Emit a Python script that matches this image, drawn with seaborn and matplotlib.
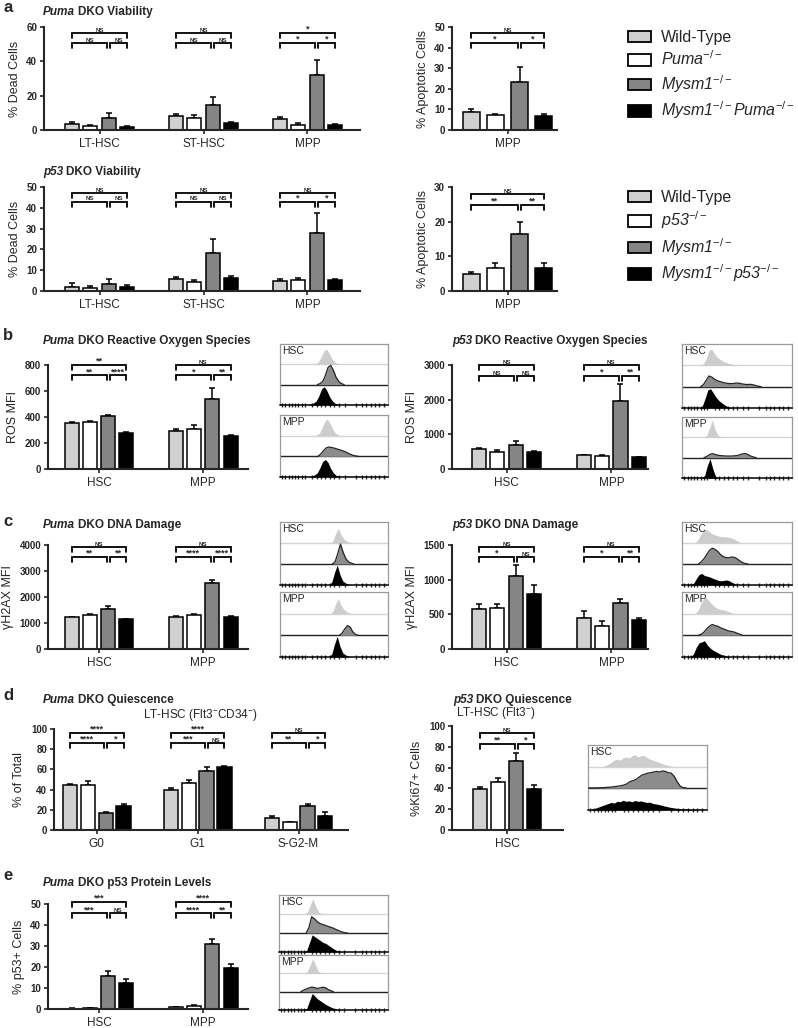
import numpy as np
import pandas as pd
import matplotlib
matplotlib.use("Agg")
import matplotlib.pyplot as plt
import seaborn as sns
from matplotlib.patches import Patch

W, H = 798, 1028

# ---------------- data ----------------
GENO = ["WT", "KO", "MYSM", "DKO"]
COLORS = ["#d0d0d0", "#ffffff", "#858585", "#000000"]
PUMA_LABELS = ["Wild-Type", r"Puma$^{-/-}$", r"Mysm1$^{-/-}$", r"Mysm1$^{-/-}$Puma$^{-/-}$"]
P53_LABELS = ["Wild-Type", r"p53$^{-/-}$", r"Mysm1$^{-/-}$", r"Mysm1$^{-/-}$p53$^{-/-}$"]

via_groups = ["LT-HSC", "ST-HSC", "MPP"]
via_puma_mean = [[3.7, 2.1, 7.0, 1.7], [8.3, 6.8, 14.3, 4.1], [6.4, 3.1, 32.2, 3.1]]
via_puma_err = [[1.1, 0.6, 2.8, 0.4], [0.8, 1.9, 4.8, 0.5], [0.9, 0.9, 8.7, 0.4]]
via_puma_sig = [["NS", "NS", "NS"], ["NS", "NS", "NS"], ["*", "*", "*"]]

apo_puma_mean = [[8.5, 7.2, 23.5, 6.9]]
apo_puma_err = [[1.6, 0.5, 7.2, 1.1]]
apo_puma_sig = [["NS", "*", "*"]]

via_p53_mean = [[1.9, 1.6, 3.3, 1.9], [6.0, 4.5, 18.5, 6.4], [4.6, 5.1, 27.7, 5.3]]
via_p53_err = [[1.9, 0.8, 2.4, 0.8], [0.7, 0.9, 6.3, 0.6], [1.3, 1.0, 9.6, 0.3]]
via_p53_sig = [["NS", "NS", "NS"], ["NS", "NS", "NS"], ["NS", "*", "*"]]

apo_p53_mean = [[4.9, 6.5, 16.5, 6.7]]
apo_p53_err = [[0.7, 1.5, 3.3, 1.3]]
apo_p53_sig = [["NS", "**", "**"]]

hm_groups = ["HSC", "MPP"]
ros_puma_mean = [[355, 365, 410, 280], [295, 310, 540, 255]]
ros_puma_err = [[10, 5, 5, 5], [15, 25, 85, 3]]
ros_puma_sig = [["**", "**", "****"], ["NS", "*", "**"]]

ros_p53_mean = [[590, 480, 700, 490], [400, 370, 1960, 340]]
ros_p53_err = [[25, 60, 100, 20], [10, 30, 480, 10]]
ros_p53_sig = [["NS", "NS", "NS"], ["NS", "*", "**"]]

dna_puma_mean = [[1220, 1300, 1520, 1140], [1250, 1310, 2520, 1220]]
dna_puma_err = [[30, 30, 120, 30], [30, 50, 150, 60]]
dna_puma_sig = [["NS", "**", "**"], ["NS", "****", "****"]]

dna_p53_mean = [[584, 598, 1052, 796], [453, 328, 666, 420]]
dna_p53_err = [[62, 53, 154, 130], [92, 77, 57, 33]]
dna_p53_sig = [["NS", "*", "NS"], ["NS", "*", "**"]]

cc_groups = ["G0", "G1", "S-G2-M"]
cc_puma_mean = [[44.2, 44.2, 16.8, 23.4], [39.3, 46.2, 58.7, 62.4], [11.9, 7.6, 23.4, 13.5]]
cc_puma_err = [[1.3, 4.0, 1.4, 2.6], [2.0, 3.6, 3.3, 1.0], [1.6, 0.7, 2.0, 4.0]]
cc_puma_sig = [["****", "****", "*"], ["****", "***", "NS"], ["NS", "**", "*"]]

ki_groups = ["HSC"]
ki_p53_mean = [[39.7, 46.2, 66.7, 39.1]]
ki_p53_err = [[2.0, 3.5, 7.3, 4.5]]
ki_p53_sig = [["NS", "**", "*"]]

p53_puma_mean = [[0.2, 0.5, 15.9, 12.3], [0.8, 1.3, 31.0, 19.7]]
p53_puma_err = [[0.1, 0.2, 2.3, 1.9], [0.3, 0.45, 2.3, 1.6]]
p53_puma_sig = [["***", "***", "NS"], ["****", "****", "**"]]

# flow histograms: (start position, heights sampled every HSTEP), rows WT / Mysm1 / DKO
HSTEP = 0.025
ros_puma_hsc = [(0.305, [0, .04, .12, .35, .65, .75, .55, .28, .12, .04, 0]),
                (0.345, [0, .05, .15, .45, .85, .95, .7, .35, .15, .05, 0]),
                (0.26, [0, .05, .1, .2, .45, .8, .9, .7, .4, .2, .08, .03, 0])]
ros_puma_mpp = [(0.315, [0, .04, .12, .38, .7, .8, .58, .3, .12, .04, 0]),
                (0.35, [0, .1, .25, .4, .45, .43, .4, .36, .32, .28, .23, .17, .1, .05, .02, 0]),
                (0.27, [0, .05, .1, .2, .45, .75, .85, .7, .4, .2, .08, .03, 0])]
ros_p53_hsc = [(0.17, [0, .08, .3, .7, .75, .55, .38, .28, .2, .15, .1, .07, .04, .02, 0]),
               (0.17, [0, .1, .3, .5, .45, .35, .28, .24, .2, .17, .15, .14, .15, .17, .16, .13,
                       .11, .1, .11, .09, .05, .02, 0]),
               (0.16, [0, .1, .45, .85, .9, .7, .5, .35, .25, .15, .08, .03, 0])]
ros_p53_mpp = [(0.2, [0, .1, .45, .85, .4, .12, .04, 0]),
               (0.2, [0, .06, .15, .2, .16, .12, .1, .09, .08, .08, .08, .09, .1, .14, .19, .2,
                      .15, .08, .03, 0]),
               (0.18, [0, .1, .6, .95, .45, .08, 0])]
dna_puma_hsc = [(0.465, [0, .1, .45, .7, .4, .2, .1, .04, 0]),
                (0.485, [0, .1, .5, .95, .55, .25, .1, .04, 0]),
                (0.455, [0, .15, .6, .95, .5, .2, .1, .04, 0])]
dna_puma_mpp = [(0.465, [0, .1, .45, .7, .4, .2, .1, .04, 0]),
                (0.55, [0, .1, .3, .45, .38, .15, .04, 0]),
                (0.455, [0, .15, .6, .95, .5, .2, .1, .04, 0])]
dna_p53_hsc = [(0.12, [0, .15, .4, .6, .65, .55, .45, .4, .35, .32, .3, .3, .28, .25, .2, .12, .05, 0]),
               (0.15, [0, .1, .25, .45, .65, .75, .7, .6, .45, .35, .3, .3, .33, .32, .25, .15,
                       .07, .02, 0]),
               (0.08, [0, .08, .3, .5, .55, .45, .42, .38, .32, .27, .22, .2, .22, .24, .2, .12,
                       .05, 0])]
dna_p53_mpp = [(0.12, [0, .15, .45, .7, .75, .6, .45, .32, .25, .2, .18, .15, .1, .05, 0]),
               (0.15, [0, .05, .15, .3, .42, .5, .45, .42, .35, .3, .25, .2, .18, .15, .1, .05, 0]),
               (0.08, [0, .15, .45, .65, .7, .75, .55, .42, .32, .25, .18, .12, .08, .04, 0])]
ki_p53_hsc = [(0.12, [0, .05, .12, .2, .3, .35, .3, .4, .45, .4, .5, .55, .45, .5, .52, .42, .35,
                      .3, .25, .2, .15, .1, .06, .03, .01, 0]),
              (0.0, [.02, .02, .02, .02, .03, .03, .04, .05, .06, .08, .1, .12, .15, .2, .3, .35,
                     .4, .5, .6, .65, .7, .72, .75, .78, .75, .8, .78, .72, .7, .55, .3, .1, .03, .02]),
              (0.02, [0, .05, .1, .15, .2, .25, .3, .35, .32, .4, .38, .45, .4, .42, .38, .44, .4,
                      .42, .38, .35, .36, .3, .28, .25, .22, .18, .15, .12, .1, .08, .06, .05, .04,
                      .03, .02, .02, .01, 0])]
p53_puma_hsc = [(0.235, [0, .1, .45, .8, .45, .12, .04, 0]),
                (0.25, [0, .3, .85, .75, .6, .5, .45, .4, .35, .3, .25, .18, .12, .06, .02, 0]),
                (0.23, [0, .1, .5, .9, .8, .7, .6, .5, .45, .35, .25, .15, .08, .03, 0])]
p53_puma_mpp = [(0.235, [0, .1, .45, .8, .45, .12, .04, 0]),
                (0.2, [0, .08, .15, .2, .25, .22, .18, .2, .24, .22, .12, .05, 0]),
                (0.23, [0, .1, .5, .9, .75, .6, .5, .4, .3, .22, .15, .08, .03, 0])]
HIST_TICKS = [0.02, 0.05, 0.08, 0.11, 0.14, 0.17, 0.2, 0.23, 0.3, 0.34, 0.38, 0.42, 0.46, 0.5,
              0.55, 0.6, 0.7, 0.76, 0.8, 0.84, 0.88, 0.92, 0.96]

# ---------------- style ----------------
sns.set_style("ticks")
plt.rcParams["font.family"] = ["Liberation Sans", "DejaVu Sans"]
plt.rcParams["mathtext.fontset"] = "custom"
plt.rcParams["mathtext.rm"] = "Liberation Sans"
plt.rcParams["mathtext.it"] = "Liberation Sans:italic"
plt.rcParams["mathtext.bf"] = "Liberation Sans:bold"

fig = plt.figure(figsize=(W / 100, H / 100), dpi=100)
ov = fig.add_axes([0, 0, 1, 1])
ov.set_axis_off()
ov.set_xlim(0, W)
ov.set_ylim(H, 0)


def px_axes(x0, y0, x1, y1):
    return fig.add_axes([x0 / W, 1 - y1 / H, (x1 - x0) / W, (y1 - y0) / H])


def bar_panel(rect, groups, means, errs, sigs, ylim, ystep, ylabel, xlim,
              width=0.70, gap=0.23, brk=(0.94, 0.845)):
    ax = px_axes(*rect)
    ax.patch.set_visible(False)
    df = pd.DataFrame({"group": np.repeat(groups, 4),
                       "geno": GENO * len(groups),
                       "value": np.ravel(means)})
    sns.barplot(data=df, x="group", y="value", hue="geno", order=groups, hue_order=GENO,
                palette=COLORS, saturation=1, width=width, gap=gap, errorbar=None,
                edgecolor="black", linewidth=1.1, legend=False, ax=ax)
    bars = sorted(ax.patches, key=lambda p: p.get_x())
    xs = np.array([b.get_x() + b.get_width() / 2 for b in bars])
    ys = np.ravel(means)
    ax.errorbar(xs, ys, yerr=[np.zeros_like(ys), np.ravel(errs)], fmt="none",
                ecolor="black", elinewidth=1.1, capsize=2.5, capthick=1.1, zorder=0.9)
    ax.set_xlim(*xlim)
    ax.set_ylim(0, ylim)
    ax.set_yticks(np.arange(0, ylim + 1e-9, ystep))
    ax.set_xlabel("")
    ax.set_ylabel(ylabel, fontsize=9, labelpad=4)
    sns.despine(ax=ax)
    for s in ("left", "bottom"):
        ax.spines[s].set_linewidth(1.5)
    ax.tick_params(axis="y", labelsize=7, length=3, width=1.2, pad=2)
    ax.tick_params(axis="x", labelsize=8.5, length=3, width=1.2, pad=3)
    for lab in ax.get_yticklabels():
        lab.set_fontweight("bold")
    # significance brackets
    tr = ax.get_xaxis_transform()
    px_h = rect[3] - rect[1]
    dx = (xlim[1] - xlim[0]) / (rect[2] - rect[0])
    drop = 5 / px_h
    eps = 1.5 * dx
    for g, sig in enumerate(sigs):
        x0, x2, x3 = xs[4 * g], xs[4 * g + 2], xs[4 * g + 3]
        spans = [(x0, x3, brk[0], sig[0]), (x0, x2 - eps, brk[1], sig[1]),
                 (x2 + eps, x3, brk[1], sig[2])]
        for a, b, y, lab in spans:
            ax.plot([a, a, b, b], [y - drop, y, y, y - drop], transform=tr, color="black",
                    lw=1.3, clip_on=False, solid_joinstyle="miter")
            fs = 4.5 if lab == "NS" else 6.5
            ax.text((a + b) / 2, y + 1.2 / px_h, lab, transform=tr, ha="center",
                    va="baseline", fontsize=fs, fontweight="bold")
    return ax


def hist_box(rect, label, curves):
    ax = px_axes(*rect)
    ax.set_xlim(0, 1)
    ax.set_ylim(0, 3)
    fills = ["#cdcdcd", "#8c8c8c", "#000000"]
    ax.axhline(2, color="#d5d5d5", lw=1)
    ax.axhline(1, color="#222222", lw=1)
    for row, (start, hts) in enumerate(curves):
        base = 2 - row
        h = np.asarray(hts, dtype=float)
        x = start + HSTEP * np.arange(len(h))
        ax.fill_between(x, base, base + h, color=fills[row], lw=0, zorder=2)
        if row == 1:
            ax.plot(x, base + h, color="#222222", lw=0.9, zorder=3)
    for s in ("top", "left", "right"):
        ax.spines[s].set_color("#9a9a9a")
        ax.spines[s].set_linewidth(0.9)
    ax.spines["bottom"].set_color("black")
    ax.spines["bottom"].set_linewidth(1.1)
    ax.set_yticks([])
    ax.set_xticks(HIST_TICKS)
    ax.set_xticklabels([])
    ax.tick_params(axis="x", direction="inout", length=3, width=1)
    ax.text(0.02, 0.97, label, transform=ax.transAxes, ha="left", va="top", fontsize=7.5,
            zorder=5)


def title(x, y, ital, rest):
    t = ov.text(x, y, ital, fontsize=8.5, fontweight="bold", fontstyle="italic",
                ha="left", va="center")
    ov.annotate(rest, xy=(1, 0), xycoords=t, xytext=(2.2, 0), textcoords="offset points",
                fontsize=8.5, fontweight="bold", ha="left", va="bottom")


def letter(x, y, s):
    ov.text(x, y, s, fontsize=12, fontweight="bold", ha="left", va="center")


def legend(x, y, labels):
    handles = [Patch(facecolor=c, edgecolor="black", lw=1.3) for c in COLORS]
    leg = fig.legend(handles, labels, loc="upper left", bbox_to_anchor=(x / W, 1 - y / H),
                     frameon=False, fontsize=11.5, handlelength=1.45, handleheight=0.75,
                     handletextpad=0.6, labelspacing=0.3, borderpad=0, borderaxespad=0)
    for t in leg.get_texts()[1:]:
        t.set_fontstyle("italic")


# ---------------- panel a ----------------
letter(3, 8, "a")
title(43, 12, "Puma", "DKO Viability")
bar_panel((44, 27, 360, 130), via_groups, via_puma_mean, via_puma_err, via_puma_sig,
          60, 20, "% Dead Cells", (-0.534, 2.505))
bar_panel((452, 27, 557, 130), ["MPP"], apo_puma_mean, apo_puma_err, apo_puma_sig,
          50, 10, "% Apoptotic Cells", (-0.459, 0.409), width=0.8, gap=0.31)
legend(628, 30, PUMA_LABELS)

title(43, 172, "p53", "DKO Viability")
bar_panel((44, 187, 360, 291), via_groups, via_p53_mean, via_p53_err, via_p53_sig,
          50, 10, "% Dead Cells", (-0.534, 2.505), brk=(0.94, 0.86))
bar_panel((452, 187, 557, 291), ["MPP"], apo_p53_mean, apo_p53_err, apo_p53_sig,
          30, 10, "% Apoptotic Cells", (-0.459, 0.409), width=0.8, gap=0.31,
          brk=(0.93, 0.83))
legend(628, 190, P53_LABELS)

# ---------------- panel b ----------------
letter(3, 336, "b")
title(43, 341, "Puma", "DKO Reactive Oxygen Species")
title(452, 341, "p53", "DKO Reactive Oxygen Species")
bar_panel((48, 365, 248, 469), hm_groups, ros_puma_mean, ros_puma_err, ros_puma_sig,
          800, 200, "ROS MFI", (-0.49, 1.43), brk=(1.0, 0.9))
bar_panel((452, 365, 648, 469), hm_groups, ros_p53_mean, ros_p53_err, ros_p53_sig,
          3000, 1000, "ROS MFI", (-0.52, 1.35), brk=(1.0, 0.895))
hist_box((280, 344, 388, 405), "HSC", ros_puma_hsc)
hist_box((280, 415, 388, 477), "MPP", ros_puma_mpp)
hist_box((682, 344, 792, 408), "HSC", ros_p53_hsc)
hist_box((682, 417, 792, 478), "MPP", ros_p53_mpp)

# ---------------- panel c ----------------
letter(3, 522, "c")
title(43, 525, "Puma", "DKO DNA Damage")
title(452, 525, "p53", "DKO DNA Damage")
bar_panel((48, 545, 248, 649), hm_groups, dna_puma_mean, dna_puma_err, dna_puma_sig,
          4000, 1000, "\u03b3H2AX MFI", (-0.49, 1.43), brk=(0.98, 0.885))
bar_panel((452, 545, 648, 649), hm_groups, dna_p53_mean, dna_p53_err, dna_p53_sig,
          1500, 500, "\u03b3H2AX MFI", (-0.52, 1.35), brk=(0.98, 0.885))
hist_box((280, 522, 388, 585), "HSC", dna_puma_hsc)
hist_box((280, 592, 388, 657), "MPP", dna_puma_mpp)
hist_box((682, 522, 792, 585), "HSC", dna_p53_hsc)
hist_box((682, 592, 792, 657), "MPP", dna_p53_mpp)

# ---------------- panel d ----------------
letter(3, 695, "d")
title(43, 700, "Puma", "DKO Quiescence")
ov.text(200, 715, r"LT-HSC (Flt3$^{-}$CD34$^{-}$)", fontsize=8.5, ha="center", va="center")
bar_panel((54, 729, 348, 830), cc_groups, cc_puma_mean, cc_puma_err, cc_puma_sig,
          100, 20, "% of Total", (-0.423, 2.49), width=0.71, gap=0.21, brk=(0.96, 0.86))
title(453, 700, "p53", "DKO Quiescence")
ov.text(496, 713, r"LT-HSC (Flt3$^{-}$)", fontsize=8.5, ha="center", va="center")
bar_panel((452, 726, 563, 830), ki_groups, ki_p53_mean, ki_p53_err, ki_p53_sig,
          100, 20, "%Ki67+ Cells", (-0.61, 0.62), width=0.8, gap=0.22, brk=(0.93, 0.83))
hist_box((588, 745, 707, 810), "HSC", ki_p53_hsc)

# ---------------- panel e ----------------
letter(3, 875, "e")
title(43, 883, "Puma", "DKO p53 Protein Levels")
bar_panel((48, 904, 248, 1009), hm_groups, p53_puma_mean, p53_puma_err, p53_puma_sig,
          50, 10, "% p53+ Cells", (-0.49, 1.43), brk=(1.02, 0.91))
hist_box((279, 895, 388, 952), "HSC", p53_puma_hsc)
hist_box((279, 955, 388, 1010), "MPP", p53_puma_mpp)

fig.savefig("out.png", dpi=100, facecolor="white")
